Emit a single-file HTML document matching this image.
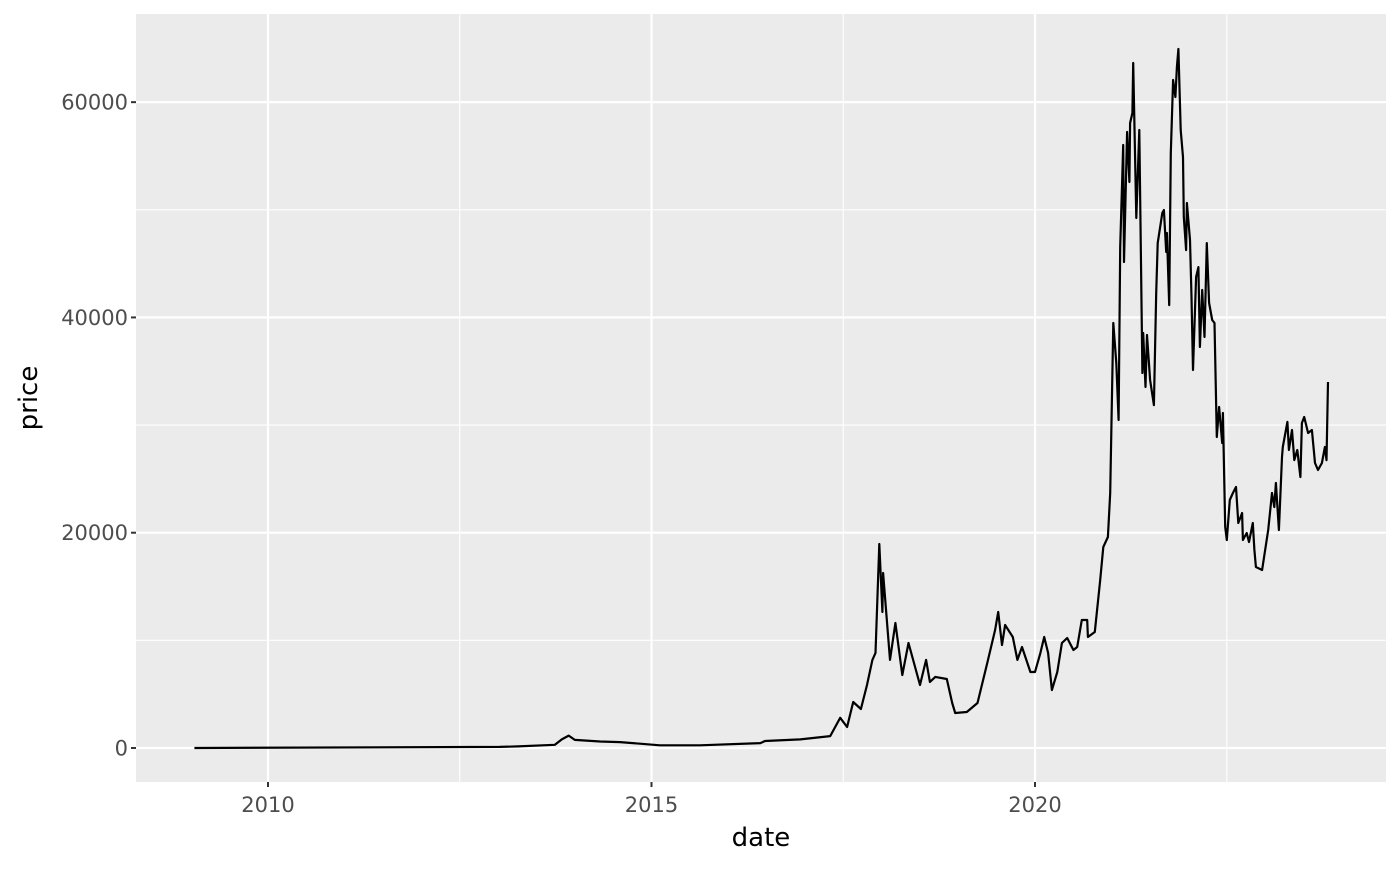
<!DOCTYPE html>
<html><head><meta charset="utf-8"><style>
body{margin:0;background:#fff;}
svg text{font-family:"DejaVu Sans","Liberation Sans",sans-serif;}
</style></head><body>
<svg id="chart" width="1400" height="866" viewBox="0 0 1400 866" xmlns="http://www.w3.org/2000/svg">
<rect width="1400" height="866" fill="#fff"/>
<g id="plot"></g>
</svg>
<script>
const years=[2009.04,2013.02,2013.26,2013.74,2013.83,2013.92,2014.00,2014.33,2014.59,2014.85,2015.11,2015.63,2016.42,2016.48,2016.94,2017.33,2017.46,2017.55,2017.63,2017.73,2017.81,2017.88,2017.92,2017.97,2018.01,2018.02,2018.11,2018.18,2018.27,2018.35,2018.50,2018.58,2018.63,2018.70,2018.85,2018.92,2018.96,2019.11,2019.25,2019.38,2019.48,2019.52,2019.57,2019.61,2019.71,2019.77,2019.83,2019.94,2020.00,2020.07,2020.12,2020.17,2020.22,2020.29,2020.35,2020.42,2020.50,2020.55,2020.61,2020.68,2020.69,2020.78,2020.85,2020.89,2020.95,2020.98,2021.02,2021.06,2021.09,2021.11,2021.15,2021.16,2021.20,2021.23,2021.24,2021.27,2021.28,2021.32,2021.36,2021.40,2021.41,2021.44,2021.46,2021.50,2021.55,2021.58,2021.60,2021.66,2021.68,2021.71,2021.72,2021.75,2021.77,2021.80,2021.83,2021.85,2021.87,2021.90,2021.93,2021.94,2021.97,2021.98,2022.02,2022.04,2022.06,2022.10,2022.13,2022.15,2022.18,2022.21,2022.24,2022.27,2022.31,2022.34,2022.37,2022.40,2022.44,2022.45,2022.48,2022.50,2022.54,2022.58,2022.62,2022.65,2022.70,2022.71,2022.76,2022.79,2022.84,2022.86,2022.88,2022.96,2023.04,2023.09,2023.12,2023.14,2023.18,2023.22,2023.23,2023.29,2023.31,2023.35,2023.38,2023.42,2023.46,2023.48,2023.51,2023.56,2023.61,2023.65,2023.69,2023.74,2023.78,2023.80,2023.82];
const prices=[0,100,150,300,800,1150,750,600,550,400,250,250,450,650,800,1100,2800,1950,4270,3620,5850,8180,8830,18950,12630,16260,8180,11610,6780,9750,5850,8180,6130,6600,6410,4180,3250,3340,4180,7990,10960,12630,9570,11430,10310,8180,9380,7060,7060,8830,10310,8830,5390,7060,9750,10220,9100,9380,11890,11890,10310,10780,15610,18670,19600,23690,39480,35770,30470,46540,56020,45150,57230,52580,58060,58990,63640,49240,57410,34840,38550,33540,38370,34190,31860,42270,46910,49700,49980,46080,47840,41150,55280,62060,60480,63270,64940,57410,54900,49330,46260,50630,47190,41900,35120,43760,44680,37250,42550,38180,46910,41340,39760,39480,28890,31680,28330,31120,20530,19320,23040,23690,24250,20900,21830,19320,19970,19140,20900,18390,16810,16540,20250,23690,22390,24620,20250,27030,27960,30290,27680,29540,26750,27680,25180,30190,30750,29260,29540,26480,25830,26480,27960,26750,34000];
const xTicks=[2010,2015,2020];
const xTickLabels=["2010","2015","2020"];
const xMinor=[2012.5,2017.5,2022.5];
const yTicks=[0,20000,40000,60000];
const yTickLabels=["0","20000","40000","60000"];
const yMinor=[10000,30000,50000];

const L=136,R=1386,T=14,B=782;
const xMin=2008.279,xMax=2024.576,yMin=-3160,yMax=68190;
const sx=v=>L+(v-xMin)/(xMax-xMin)*(R-L);
const sy=v=>B-(v-yMin)/(yMax-yMin)*(B-T);
const NS="http://www.w3.org/2000/svg";
const g=document.getElementById('plot');
function mk(tag,attrs,parent){const e=document.createElementNS(NS,tag);for(const k in attrs)e.setAttribute(k,attrs[k]);(parent||g).appendChild(e);return e;}
const panel=mk('rect',{x:L,y:T,width:R-L,height:B-T,fill:'#ebebeb'});


yMinor.forEach(v=>{const l=mk('line',{x1:L,x2:R,y1:sy(v),y2:sy(v),stroke:'#fff','stroke-width':1.1});

});
xMinor.forEach(v=>{const l=mk('line',{x1:sx(v),x2:sx(v),y1:T,y2:B,stroke:'#fff','stroke-width':1.1});

});
yTicks.forEach((v,i)=>{const l=mk('line',{x1:L,x2:R,y1:sy(v),y2:sy(v),stroke:'#fff','stroke-width':2.2});


const t=mk('line',{x1:L-5,x2:L,y1:sy(v),y2:sy(v),stroke:'#333','stroke-width':2});


const tx=mk('text',{x:L-8,y:sy(v)+7.5,'text-anchor':'end','font-size':21,fill:'#4d4d4d'});tx.textContent=yTickLabels[i];

});
xTicks.forEach((v,i)=>{const l=mk('line',{x1:sx(v),x2:sx(v),y1:T,y2:B,stroke:'#fff','stroke-width':2.2});


const t=mk('line',{x1:sx(v),x2:sx(v),y1:B,y2:B+5,stroke:'#333','stroke-width':2});


const tx=mk('text',{x:sx(v),y:B+30,'text-anchor':'middle','font-size':21,fill:'#4d4d4d'});tx.textContent=xTickLabels[i];

});
const d=years.map((y,i)=>(i?'L':'M')+sx(y).toFixed(1)+','+sy(prices[i]).toFixed(1)).join('');
const line=mk('path',{d:d,fill:'none',stroke:'#000','stroke-width':2.2,'stroke-linejoin':'round'});


const xt=mk('text',{x:(L+R)/2,y:846,'text-anchor':'middle','font-size':26,fill:'#000'});xt.textContent='date';


const yt=mk('text',{x:0,y:0,'text-anchor':'middle','font-size':26,fill:'#000',transform:'translate(37,'+((T+B)/2)+') rotate(-90)'});yt.textContent='price';


</script>
</body></html>
